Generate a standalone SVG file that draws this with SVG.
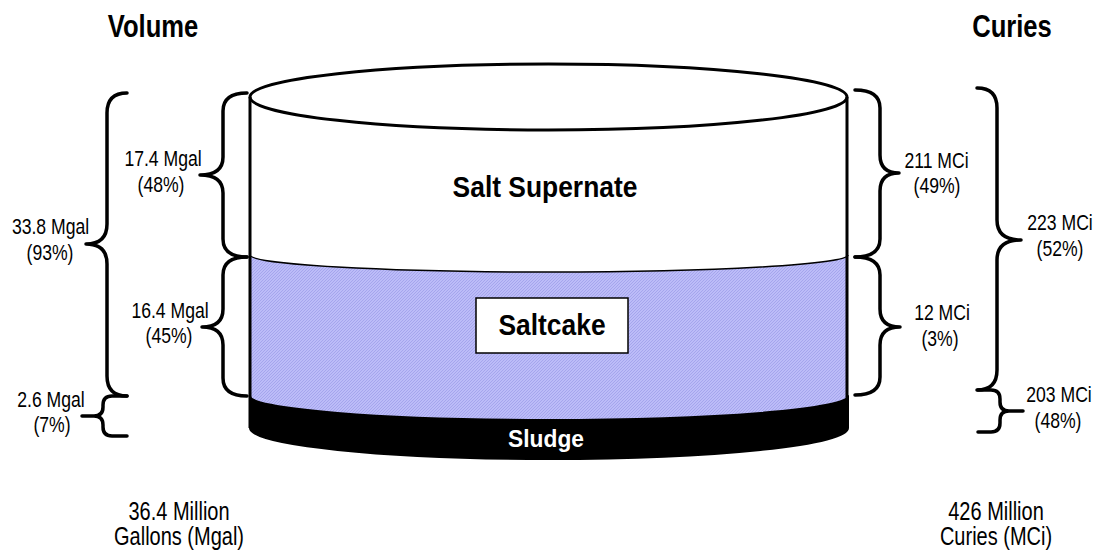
<svg xmlns="http://www.w3.org/2000/svg" width="1094" height="554" viewBox="0 0 1094 554">
<style>
text{font-family:"Liberation Sans",Arial,sans-serif;text-anchor:middle;fill:#000}
.t{font-size:32px;font-weight:bold}
.s{font-size:22px}
.b{font-size:25px}
.n{font-size:30px;font-weight:bold}
.w{font-size:24px;font-weight:bold;fill:#fff}
.br{fill:none;stroke:#000;stroke-width:3.5;stroke-linejoin:round;stroke-linecap:round}
.wall{fill:none;stroke:#000;stroke-width:3}
</style>
<defs>
<pattern id="hatch" width="3" height="3" patternUnits="userSpaceOnUse">
<rect width="3" height="3" fill="#bcbcf8"/>
<path d="M0,3 L3,0 M-1,1 L1,-1 M2,4 L4,2" stroke="#a3a3ec" stroke-width="0.9"/>
</pattern>
</defs>
<rect width="1094" height="554" fill="#fff"/>

<g id="titles">
<text class="t" transform="translate(153 37) scale(0.8 1)">Volume</text>
<text class="t" transform="translate(1012 37) scale(0.8 1)">Curies</text>
</g>

<g id="tank">
<g id="saltcake">
<path d="M250,255 A298.5,17 0 0 0 848,255 L848,396 A298.5,24 0 0 1 250,396 Z" fill="url(#hatch)"/>
<path d="M250,255 A298.5,17 0 0 0 848,255" fill="none" stroke="#000" stroke-width="1.5"/>
<rect x="476" y="298" width="152" height="55" fill="#fff" stroke="#000" stroke-width="1.5"/>
<text class="n" transform="translate(552 335) scale(0.88 1)">Saltcake</text>
</g>
<g id="sludge">
<path d="M250,396 A298.5,24 0 0 0 848,396 L848,428 A298.5,31 0 0 1 250,428 Z" fill="#000" stroke="#000" stroke-width="2" stroke-linejoin="round"/>
<text class="w" transform="translate(546 447) scale(0.95 1)">Sludge</text>
</g>
<g id="supernate">
<text class="n" transform="translate(545 197) scale(0.88 1)">Salt Supernate</text>
</g>
<g id="shell">
<ellipse cx="548.5" cy="97" rx="298.5" ry="33" class="wall"/>
<line x1="250" y1="97" x2="250" y2="428" class="wall"/>
<line x1="847" y1="97" x2="847" y2="428" class="wall"/>
</g>
</g>

<g id="connectors">
<path class="br" d="M127,93 Q107,93 107,113 L107,224 Q107,244 86,244 Q107,244 107,264 L107,376 Q107,396 127,396"/>
<path class="br" d="M127,396 L112,396 Q103,396 103,405 L103,407 Q103,416 94,416 L82,416 L94,416 Q103,416 103,425 L103,427 Q103,436 112,436 L127,436"/>
<path class="br" d="M247,93 Q223,93 223,111 L223,157 Q223,175 200,175 Q223,175 223,193 L223,239 Q223,257 247,257"/>
<path class="br" d="M247,257 Q223,257 223,275 L223,309 Q223,327 202,327 Q223,327 223,345 L223,378 Q223,396 247,396"/>
<path class="br" d="M855,90 Q880,90 880,108 L880,155 Q880,173 899,173 Q880,173 880,191 L880,239 Q880,257 855,257"/>
<path class="br" d="M855,257 Q880,257 880,275 L880,309 Q880,327 900,327 Q880,327 880,345 L880,377 Q880,395 855,395"/>
<path class="br" d="M977,88 Q997,88 997,108 L997,220 Q997,240 1021,240 Q997,240 997,260 L997,370 Q997,390 977,390"/>
<path class="br" d="M978,390 L991,390 Q1000,390 1000,399 L1000,402 Q1000,411 1009,411 L1023,411 L1009,411 Q1000,411 1000,420 L1000,423 Q1000,432 991,432 L978,432"/>
</g>

<g id="volume-labels">
<text class="s" transform="translate(163 166) scale(0.8 1)">17.4 Mgal</text>
<text class="s" transform="translate(161 192) scale(0.8 1)">(48%)</text>
<text class="s" transform="translate(50.5 234) scale(0.8 1)">33.8 Mgal</text>
<text class="s" transform="translate(50 260) scale(0.8 1)">(93%)</text>
<text class="s" transform="translate(170 318) scale(0.8 1)">16.4 Mgal</text>
<text class="s" transform="translate(169 343) scale(0.8 1)">(45%)</text>
<text class="s" transform="translate(51 407) scale(0.8 1)">2.6 Mgal</text>
<text class="s" transform="translate(52 432) scale(0.8 1)">(7%)</text>
<text class="b" transform="translate(179 520) scale(0.8 1)">36.4 Million</text>
<text class="b" transform="translate(179 545) scale(0.8 1)">Gallons (Mgal)</text>
</g>

<g id="curie-labels">
<text class="s" transform="translate(936.5 168) scale(0.8 1)">211 MCi</text>
<text class="s" transform="translate(937 193) scale(0.8 1)">(49%)</text>
<text class="s" transform="translate(942 320) scale(0.8 1)">12 MCi</text>
<text class="s" transform="translate(940 346) scale(0.8 1)">(3%)</text>
<text class="s" transform="translate(1060 230) scale(0.8 1)">223 MCi</text>
<text class="s" transform="translate(1060 256) scale(0.8 1)">(52%)</text>
<text class="s" transform="translate(1059 402) scale(0.8 1)">203 MCi</text>
<text class="s" transform="translate(1058 428) scale(0.8 1)">(48%)</text>
<text class="b" transform="translate(996 520) scale(0.8 1)">426 Million</text>
<text class="b" transform="translate(996 545) scale(0.8 1)">Curies (MCi)</text>
</g>
</svg>
